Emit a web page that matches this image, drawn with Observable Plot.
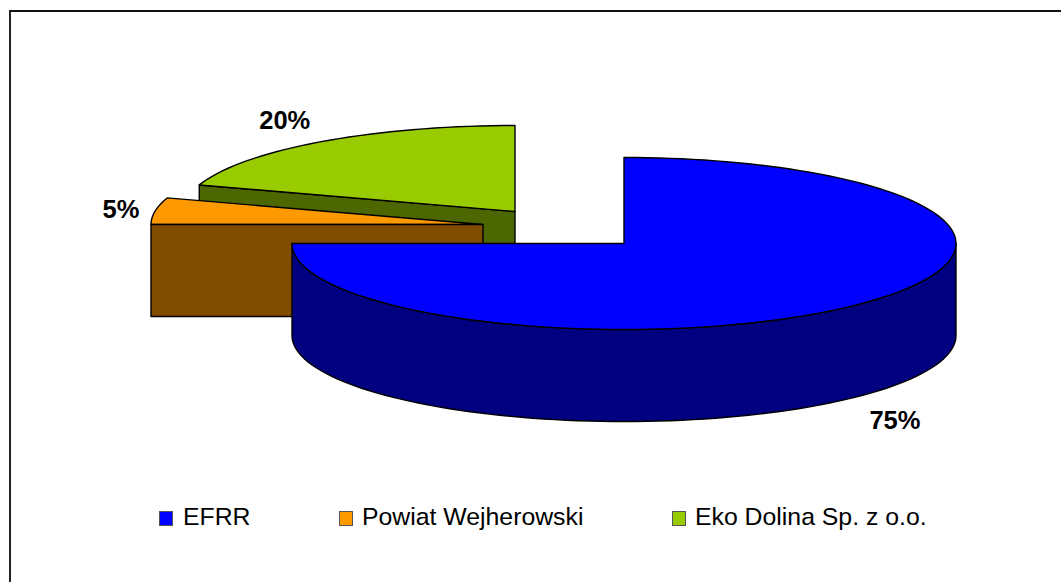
<!DOCTYPE html>
<html><head><meta charset="utf-8">
<script src="https://cdn.jsdelivr.net/npm/d3@7"></script>
<script src="https://cdn.jsdelivr.net/npm/@observablehq/plot@0.6"></script>
<style>
html,body{margin:0;padding:0;background:#fff;width:1061px;height:582px;overflow:hidden}
#frame{position:absolute;left:9px;top:10px;right:0;bottom:0;border-left:2px solid #222;border-top:2px solid #111}
#chart{position:absolute;left:0;top:0}
#chart svg{display:block;background:transparent}
.leg{position:absolute;top:503px;height:28px;font:24.8px "Liberation Sans",Arial,sans-serif;color:#000;line-height:28px;white-space:nowrap}
.leg i{position:absolute;left:0;top:8px;width:12px;height:13px;border:1px solid #555}
.leg span{position:absolute}
</style></head>
<body>
<div id="frame"></div>
<div id="chart"></div>
<div id="legend"></div>
<script>
// data
const categories = ["EFRR", "Powiat Wejherowski", "Eko Dolina Sp. z o.o."];
const shares = [75, 5, 20];
const topColors = ["#0000ff", "#ff9900", "#99cc00"];
const sideColors = ["#000080", "#7f4c00", "#4c6600"];

// layout (unit-pie space: radius 1, y up)
const explode = [[0, 0], [-0.4247, 0.221], [-0.3283, 0.372]];
const depth = 1.07;
const labelPull = [[1.154, -2.06], [1.104, 1.09], [1.18, 1.31]];
const legendX = [159, 339, 672];
const legendTextGap = [24, 23, 23];

// slice angle ranges (degrees clockwise from 12 o'clock)
let acc = 0;
const slices = categories.map((c, i) => {
  const a0 = acc, a1 = acc + shares[i] * 3.6; acc = a1;
  return {name: c, i, a0, a1, dx: explode[i][0], dy: explode[i][1]};
});
const rad = a => a * Math.PI / 180;
const rim = (s, a, drop = 0) => ({x: s.dx + Math.sin(rad(a)), y: s.dy + Math.cos(rad(a)) - drop});
const apex = (s, drop = 0) => ({x: s.dx, y: s.dy - drop});
const arc = (s, a0, a1, drop = 0) => {
  const n = Math.max(2, Math.ceil(Math.abs(a1 - a0) / 2));
  return d3.range(n + 1).map(k => rim(s, a0 + (a1 - a0) * k / n, drop));
};
const topFace = s => [apex(s), ...arc(s, s.a0, s.a1), apex(s)];
const radialFace = (s, a) => [apex(s), rim(s, a), rim(s, a, depth), apex(s, depth), apex(s)];
const wall = (s, a0, a1) => [...arc(s, a0, a1), ...arc(s, a1, a0, depth)];

const [blue, orange, green] = slices;
const face = (pts, fill) => Plot.line([...pts, pts[0]], {x: "x", y: "y", fill, stroke: "#000", strokeWidth: 1.4, strokeLinejoin: "round", curve: "linear"});

const labels = slices.map((s, i) => {
  const mid = rad((s.a0 + s.a1) / 2);
  return {
    x: s.dx + Math.sin(mid) * labelPull[i][0],
    y: s.dy + (i === 0 ? labelPull[i][1] : Math.cos(mid) * labelPull[i][1]),
    text: shares[i] + "%"
  };
});

const plot = Plot.plot({
  width: 1061, height: 500,
  margin: 0,
  x: {domain: [-1, 1], range: [291.5, 955.5], axis: null},
  y: {domain: [-1, 1], range: [329, 157], axis: null},
  marks: [
    face(radialFace(green, green.a0), sideColors[2]),
    face(topFace(green), topColors[2]),
    face(topFace(orange), topColors[1]),
    face(radialFace(orange, orange.a0), sideColors[1]),
    face(wall(blue, 90, 270), sideColors[0]),
    face(topFace(blue), topColors[0]),
    Plot.text(labels, {x: "x", y: "y", text: "text", fontSize: 25.5, fontWeight: "bold", fontFamily: "Liberation Sans", fill: "#000"})
  ]
});
plot.style.background = "transparent";
document.getElementById("chart").append(plot);

const legend = document.getElementById("legend");
categories.forEach((c, i) => {
  const d = document.createElement("div");
  d.className = "leg";
  d.style.left = legendX[i] + "px";
  const sw = document.createElement("i");
  sw.style.background = topColors[i];
  const t = document.createElement("span");
  t.style.left = legendTextGap[i] + "px";
  t.textContent = c;
  d.append(sw, t);
  legend.append(d);
});
</script>
</body></html>
